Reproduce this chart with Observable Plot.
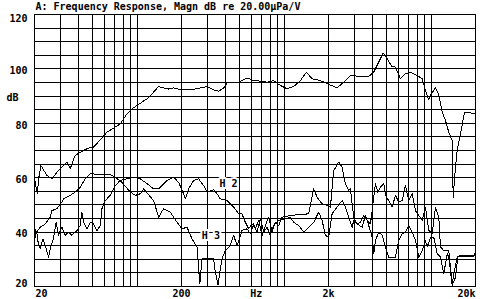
<!DOCTYPE html>
<html><head><meta charset="utf-8">
<script src="https://cdn.jsdelivr.net/npm/d3@7"></script>
<script src="https://cdn.jsdelivr.net/npm/@observablehq/plot@0.6"></script>
<style>html,body{margin:0;padding:0;background:#fff}</style>
</head><body><div id="chart"></div>
<script>
const title = "A: Frequency Response, Magn dB re 20.00µPa/V";
const unitX = "Hz";
const unitY = "dB";

const mainFreq = [20,20.9,21.4,22.1,24.3,26.3,28.4,30.7,33.2,35,37.8,43.1,47.9,50.4,62.2,70.8,76.6,85.1,92,99.5,107.7,116.5,126,139.6,151,163,177,202,229,269,298,331,358,387,408,452,489,516,558,619,688,764,847,941,1045,1159,1288,1414,1546,1761,1975,2288,2538,2820,3298,3756,4062,4392,4706,5012,5418,5708,6174,6676,7218,8020,8674,9132,9620,9988,10684,11252,11868,12496,13160,13878,14100,14620,15012,15812,16836,18008,19472,20000];
const mainDb = [59.6,54.1,60,64.5,60.8,59.6,62,63.9,65.7,63.3,68.2,70,71.2,71.2,76.7,78.6,79.8,83.5,85.3,86.5,87.8,89,90.8,93.5,93,92.6,93,92.3,92.3,93,93.5,92.3,91.8,93,94.8,95.1,95.1,95.7,96.7,95.7,95.5,95.1,95.7,93.9,92.7,93.5,95.7,98.8,96.4,95.7,94.5,93,95.1,97.6,97.2,97.2,98.8,102.5,105.8,103.8,100.7,100.7,96.4,98.2,98.8,97.6,96.4,92.1,88.6,90.8,93,90.5,84.1,81,76.7,73.7,52.8,63.9,70,76.1,84.1,84.1,83.5,84];

const h2Freq = [20,20.2,20.8,21.3,21.9,22.8,23.7,24.9,25.9,26.9,28.1,29.1,30.7,32.4,34.1,35.9,38.9,40.9,42,43.6,45.5,47.9,50.4,53.2,56,57.5,60.6,65.5,70.9,76.6,85.1,94.4,104.9,116.5,129.2,139.7,159.3,176.7,191,206.7,212.3,223.5,241.8,261.5,282.8,298.3,330.8,349,367.4,408,452.4,489.4,516,543.8,572.7,604,636,669.8,706.4,744,783.4,826,870,916,966,1101,1268,1467,1586,1673,1809,1957,2061,2170,2347,2476,2607,2747,2820,2896,2970,3131,3298,3472,3663,3858,3962,4173,4326,4512,4753,4880,5138,5418,5708,6012,6340,6676,7032,7417,7810,8227,8674,9134,9620,10150,10684,11252,11560,12168,13160,13878,14232,15012,15812,19472,20000];
const h2Db = [23,41,39.4,35.1,33.9,37.5,35.1,30.8,35.1,37.5,43.6,38.8,41.8,38.8,40,38.8,40.6,42.4,47.3,43,41.2,43.6,43,40.6,42.4,48.6,51.6,53.5,57.1,59,59.6,60.2,59.6,57.8,55.9,55.9,59,60.2,58.3,54.1,52.2,55.9,59,59.6,57.1,54.7,55.6,54.1,52.2,51.6,49.2,46.8,46.7,43.6,41.2,43,41.2,44.3,38.8,42.4,45.5,40,43.6,42.4,45.5,46.1,46.5,46.7,55.9,52.8,50.4,49.8,49.2,62.6,65.7,63.9,57.8,55.3,55.9,50.4,45.5,43,43.6,46.1,44.3,43,47.9,57.8,54.7,56.5,57.8,53.5,51.6,49.2,53.5,51,51.6,57.1,51.6,54.1,47.9,46.1,44.3,49.2,40.6,39.4,49.2,45.5,34.5,33.2,33.2,21,24.7,30.8,31.4,31.4,32.6];

const h3Freq = [20,20.5,21.9,23.7,25.6,26.3,28.4,30.7,31.5,35,37.8,40.9,44.3,47.9,65.5,70.9,78.7,89.7,97,104.9,110.4,129.2,139.7,151,167.8,186.4,201.6,218,235.8,255,266.4,275.8,330.8,339.8,354.4,367.4,377.4,397.4,429.8,452.4,477.4,502.8,516,558,588,619,653,688,724.6,764,804.6,847,916,1018,1101,1159,1254,1356,1467,1586,1715,1809,1905,2006,2116,2288,2476,2607,2747,2896,2970,3131,3386,3566,3756,3962,4062,4173,4392,4634,4880,5138,5708,6012,6340,6676,7032,7417,7810,8227,8674,9134,9382,9880,10402,10972,11560,12168,12836,13160,13878,14620,15154,15812,19400,20000];
const h3Db = [38,39.7,41.8,43,45.5,47.9,48.6,51,52.2,53.5,54.7,56.5,59.6,61.4,61.2,60.2,58.3,54.7,53.5,54.1,55.9,51.6,45.5,48.6,47.3,43.6,41.2,41.8,37.5,34.5,21,30.2,30.2,25.3,20.5,26.5,30.2,33.2,35.1,38.8,35.1,38.5,40.6,41.2,39.4,43,40,44.9,40,41.8,38.8,42.4,44.3,44.9,45.5,43.6,42.4,40,41.8,43.6,47.3,44.3,38.8,38.1,46.7,49.2,51.6,49.2,45.5,41.8,44.3,43,41.8,46.1,42.4,38.1,32,36.9,40,38.8,34.5,30.8,30.8,36.9,39.4,40,42.4,40,36.9,30.8,33.2,36.9,34.5,38.1,38.1,32,30.8,24.7,32,30.8,20.4,23.4,30.8,31,31,32];

const seriesLabels = ["H 2", "H 3"];
const seriesLabelFreq = [418, 317];
const seriesLabelDb = [57.9, 38.8];

const gridFreqs = [20,30,40,50,60,70,80,90,100,200,300,400,500,600,700,800,900,1000,2000,3000,4000,5000,6000,7000,8000,9000,10000,20000];
const gridDb = [20,25,30,35,40,45,50,55,60,65,70,75,80,85,90,95,100,105,110,115,120];
const yTickValues = [20,40,60,80,100,120];
const xTickValues = [20,200,2000,20000];
const xTickLabels = ["20","200","2k","20k"];
const unitXFreq = 646;
const unitYDb = 90;

const rows = (f, v) => f.slice(0, Math.min(f.length, v.length)).map((x, i) => ({f: x, db: v[i]}));
const main = rows(mainFreq, mainDb);
const h2 = rows(h2Freq, h2Db);
const h3 = rows(h3Freq, h3Db);
const labels = seriesLabels.map((t, i) => ({t, f: seriesLabelFreq[i], db: seriesLabelDb[i]}));
const xTicks = xTickValues.map((v, i) => ({f: v, t: xTickLabels[i], a: i === 0 ? "start" : i === xTickValues.length - 1 ? "end" : "middle"}));

const font = "'DejaVu Sans Mono', monospace";
const curve = {x: "f", y: "db", stroke: "black", strokeWidth: 1, shapeRendering: "crispEdges"};
const chart = Plot.plot({
  width: 480, height: 299,
  marginLeft: 34, marginRight: 5, marginTop: 14, marginBottom: 13,
  x: {type: "log", domain: [20, 20000], axis: null},
  y: {domain: [20, 120], axis: null},
  style: {fontFamily: font, fontSize: "10px", fontWeight: "bold", background: "white", color: "black"},
  marks: [
    Plot.ruleX(gridFreqs, {stroke: "black", strokeWidth: 1, shapeRendering: "crispEdges"}),
    Plot.ruleY(gridDb, {stroke: "black", strokeWidth: 1, shapeRendering: "crispEdges"}),
    Plot.line(h3, curve),
    Plot.line(h2, curve),
    Plot.line(main, curve),
    Plot.text(labels, {x: "f", y: "db", text: "t", fill: "black", stroke: "white", strokeWidth: 4, lineAnchor: "middle"}),
    Plot.frame({stroke: "black", strokeWidth: 1, shapeRendering: "crispEdges"}),
    Plot.text(yTickValues.filter(v => v === 120), {y: d => d, frameAnchor: "left", text: d => String(d), textAnchor: "end", dx: -7, dy: 4, lineAnchor: "middle", fill: "black"}),
    Plot.text(yTickValues.filter(v => v > 20 && v < 120), {y: d => d, frameAnchor: "left", text: d => String(d), textAnchor: "end", dx: -7, dy: 2, lineAnchor: "middle", fill: "black"}),
    Plot.text(yTickValues.filter(v => v === 20), {y: d => d, frameAnchor: "left", text: d => String(d), textAnchor: "end", dx: -7, dy: -3, lineAnchor: "middle", fill: "black"}),
    Plot.text(xTicks.filter(d => d.a === "start"), {x: "f", text: "t", frameAnchor: "bottom", textAnchor: "start", dx: 1, dy: 7, lineAnchor: "middle", fill: "black"}),
    Plot.text(xTicks.filter(d => d.a === "middle"), {x: "f", text: "t", frameAnchor: "bottom", textAnchor: "middle", dy: 7, lineAnchor: "middle", fill: "black"}),
    Plot.text(xTicks.filter(d => d.a === "end"), {x: "f", text: "t", frameAnchor: "bottom", textAnchor: "end", dy: 7, lineAnchor: "middle", fill: "black"}),
    Plot.text([{f: unitXFreq, t: unitX}], {x: "f", text: "t", frameAnchor: "bottom", textAnchor: "middle", dy: 7, lineAnchor: "middle", fill: "black"}),
    Plot.text([{db: unitYDb, t: unitY}], {y: "db", text: "t", frameAnchor: "left", textAnchor: "start", dx: -28, dy: 2, lineAnchor: "middle", fill: "black"}),
    Plot.text([title], {frameAnchor: "top-left", text: d => d, textAnchor: "start", dx: 1, dy: -8, lineAnchor: "middle", fill: "black"})
  ]
});
document.getElementById("chart").appendChild(chart);
</script>
</body></html>
